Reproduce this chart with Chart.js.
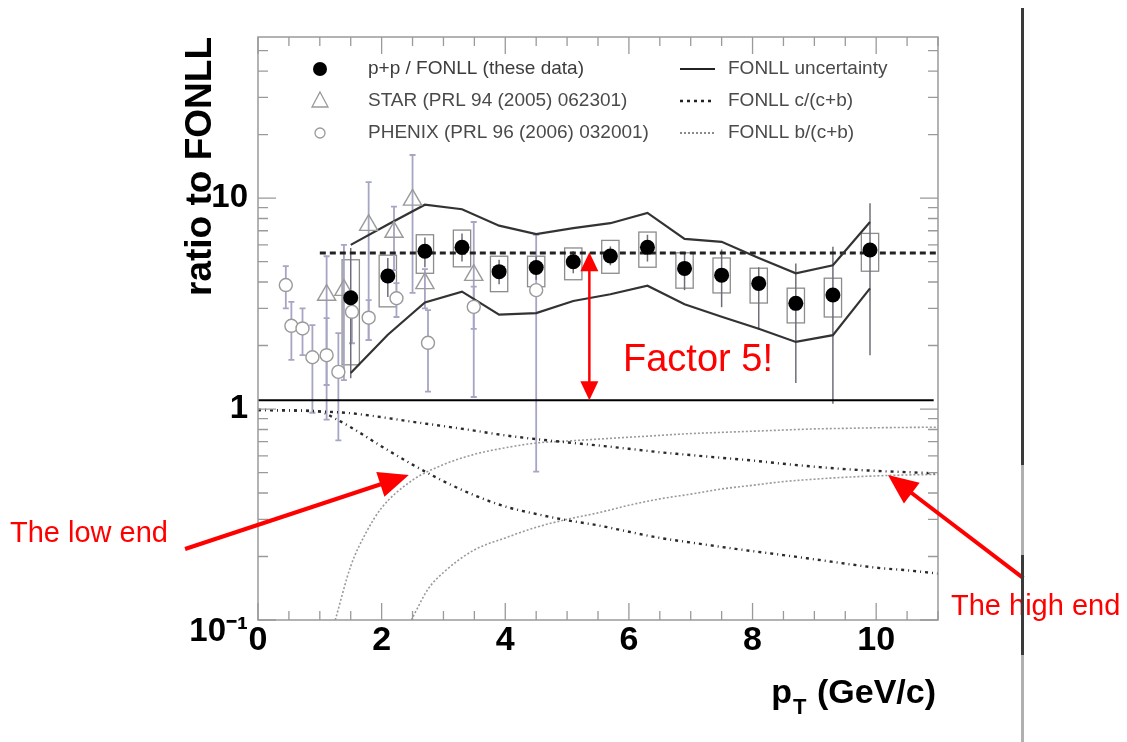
<!DOCTYPE html>
<html><head><meta charset="utf-8">
<script src="https://cdn.jsdelivr.net/npm/chart.js@4.4.0/dist/chart.umd.min.js"></script>
<style>
html,body{margin:0;padding:0;background:#fff;}
#wrap{position:relative;width:1127px;height:742px;overflow:hidden;}
canvas{display:block;}
.vl{position:absolute;left:1021px;width:3px;}
</style></head><body>
<div id="wrap">
<canvas id="c" width="1127" height="742"></canvas>
<div class="vl" style="top:8px;height:457px;background:#3a3a3a"></div>
<div class="vl" style="top:465px;height:90px;background:#b0b0b0"></div>
<div class="vl" style="top:555px;height:100px;background:#3a3a3a"></div>
<div class="vl" style="top:655px;height:87px;background:#b0b0b0"></div>
</div>
<script>
// ---------------- data ----------------
const xTickValues = [0, 2, 4, 6, 8, 10];
const yTickValues = [0.1, 1, 10];
const yTickLabels = [['', '10\u207B\u00B9'], '1', '10'];

// p+p / FONLL (these data)
const ppX      = [1.5, 2.1, 2.7, 3.3, 3.9, 4.5, 5.1, 5.7, 6.3, 6.9, 7.5, 8.1, 8.7, 9.3, 9.9];
const ppY      = [3.37, 4.27, 5.60, 5.84, 4.48, 4.69, 4.99, 5.31, 5.84, 4.64, 4.31, 3.94, 3.17, 3.47, 5.67];
const ppStatLo = [1.40, 3.40, 4.70, 5.00, 3.90, 4.10, 4.40, 4.80, 5.00, 3.66, 3.04, 2.37, 1.33, 1.06, 1.80];
const ppStatHi = [5.80, 5.20, 6.50, 6.80, 5.10, 5.30, 5.60, 5.90, 6.70, 5.50, 5.70, 4.70, 4.90, 5.87, 9.45];
const ppSysLo  = [1.62, 3.05, 4.40, 4.72, 3.60, 3.80, 4.10, 4.40, 4.70, 3.74, 3.55, 3.18, 2.56, 2.73, 4.50];
const ppSysHi  = [5.10, 5.36, 6.70, 7.05, 5.30, 5.30, 5.80, 6.30, 6.90, 5.50, 5.20, 4.65, 3.74, 4.17, 6.80];

// STAR (PRL 94 (2005) 062301)
const starX  = [1.11, 1.39, 1.79, 2.20, 2.50, 2.70, 3.49];
const starY  = [3.47, 3.66, 7.44, 6.90, 9.80, 3.94, 4.31];
const starLo = [1.30, 1.37, 2.12, 4.55, 3.55, 3.00, 1.14];
const starHi = [5.30, 6.00, 11.9, 9.10, 16.0, 4.60, 7.70];

// PHENIX (PRL 96 (2006) 032001)
const phenixX  = [0.45, 0.54, 0.72, 0.88, 1.11, 1.30, 1.52, 1.79, 2.24, 2.75, 3.49, 4.50];
const phenixY  = [3.87, 2.48, 2.41, 1.76, 1.80, 1.50, 2.89, 2.71, 3.35, 2.06, 3.05, 3.66];
const phenixLo = [3.00, 1.71, 1.80, 0.96, 0.89, 0.71, 2.05, 2.12, 2.73, 1.21, 2.40, 0.505];
const phenixHi = [4.76, 3.22, 3.00, 2.50, 2.70, 2.29, 3.36, 3.28, 3.95, 2.94, 3.80, 6.70];

// FONLL uncertainty band
const bandX  = [1.5, 2.1, 2.7, 3.3, 3.9, 4.5, 5.1, 5.7, 6.3, 6.9, 7.5, 8.1, 8.7, 9.3, 9.9];
const bandHi = [6.0, 7.5, 9.3, 8.85, 7.4, 6.75, 7.2, 7.6, 8.5, 6.4, 6.2, 5.2, 4.4, 4.8, 7.7];
const bandLo = [1.48, 2.25, 3.2, 3.6, 2.8, 2.85, 3.25, 3.5, 3.84, 3.14, 2.74, 2.4, 2.08, 2.24, 3.73];

// constant level (dashed) and the drawn reference line
const fitX = [1.0, 11.0];
const fitY = [5.49, 5.49];
const unityX = [0, 10.93];
const unityY = [1.10, 1.10];

// FONLL c/(c+b)  (two curves)
const cHiX = [0, 0.5, 1.0, 1.5, 2.0, 2.5, 3.0, 3.5, 4.0, 4.5, 5.0, 5.5, 6.0, 6.5, 7.0, 7.5, 8.0, 8.5, 9.0, 9.5, 10.0, 10.5, 11.0];
const cHiY = [0.99, 0.985, 0.975, 0.955, 0.915, 0.87, 0.83, 0.79, 0.75, 0.72, 0.695, 0.672, 0.648, 0.624, 0.605, 0.587, 0.570, 0.550, 0.533, 0.519, 0.509, 0.502, 0.495];
const cLoX = [0, 0.5, 1.0, 1.25, 1.5, 2.0, 2.5, 3.0, 3.5, 4.0, 4.5, 5.0, 5.5, 6.0, 6.5, 7.0, 7.5, 8.0, 8.5, 9.0, 9.5, 10.0, 10.5, 11.0];
const cLoY = [0.99, 0.985, 0.972, 0.90, 0.82, 0.665, 0.545, 0.455, 0.39, 0.345, 0.318, 0.297, 0.281, 0.262, 0.245, 0.233, 0.222, 0.212, 0.203, 0.194, 0.185, 0.177, 0.172, 0.166];
// FONLL b/(c+b)  (two curves)
const bHiX = [1.25, 1.5, 1.75, 2.0, 2.5, 3.0, 3.5, 4.0, 4.5, 5.0, 5.5, 6.0, 6.5, 7.0, 7.5, 8.0, 8.5, 9.0, 9.5, 10.0, 10.5, 11.0];
const bHiY = [0.10, 0.18, 0.26, 0.34, 0.46, 0.545, 0.61, 0.655, 0.69, 0.705, 0.72, 0.735, 0.75, 0.765, 0.775, 0.785, 0.795, 0.805, 0.81, 0.815, 0.818, 0.82];
const bLoX = [2.48, 2.75, 3.0, 3.5, 4.0, 4.5, 5.0, 5.5, 6.0, 6.5, 7.0, 7.5, 8.0, 8.5, 9.0, 9.5, 10.0, 10.5, 11.0];
const bLoY = [0.10, 0.14, 0.168, 0.215, 0.245, 0.275, 0.30, 0.322, 0.35, 0.375, 0.395, 0.418, 0.435, 0.453, 0.465, 0.475, 0.482, 0.487, 0.49];

// annotation arrows (data coordinates)
const factorArrow = {x: 5.36, y1: 1.10, y2: 5.54};
const lowArrow  = {x1: -1.18, y1: 0.217, x2: 2.44, y2: 0.487};
const highArrow = {x1: 12.38, y1: 0.158, x2: 10.19, y2: 0.487};

// ---------------- chart ----------------
const FONT = '"Liberation Sans", Arial, Helvetica, sans-serif';
Chart.defaults.font.family = FONT;
const pts = (xs, ys) => xs.map((x, i) => ({x, y: ys[i]}));
const boxHalf = 0.14;

const errorPlugin = {
  id: 'errorbars',
  beforeDatasetsDraw(chart) {
    const {ctx, chartArea: a} = chart;
    const xs = chart.scales.x, ys = chart.scales.y;
    ctx.save();
    ctx.beginPath(); ctx.rect(a.left, a.top, a.right - a.left, a.bottom - a.top); ctx.clip();
    ctx.strokeStyle = '#8c8c8c'; ctx.lineWidth = 1.3;
    ppX.forEach((x, i) => {
      const l = xs.getPixelForValue(x - boxHalf), r = xs.getPixelForValue(x + boxHalf);
      const t = ys.getPixelForValue(ppSysHi[i]), b = ys.getPixelForValue(ppSysLo[i]);
      ctx.strokeRect(l, t, r - l, b - t);
    });
    const bars = (X, lo, hi, color, w, cap) => {
      ctx.strokeStyle = color; ctx.lineWidth = w;
      X.forEach((x, i) => {
        const px = xs.getPixelForValue(x);
        const t = ys.getPixelForValue(hi[i]), b = ys.getPixelForValue(lo[i]);
        ctx.beginPath(); ctx.moveTo(px, t); ctx.lineTo(px, b);
        if (cap) { ctx.moveTo(px - cap, t); ctx.lineTo(px + cap, t); ctx.moveTo(px - cap, b); ctx.lineTo(px + cap, b); }
        ctx.stroke();
      });
    };
    bars(phenixX, phenixLo, phenixHi, '#a6a6c4', 1.8, 3);
    bars(starX, starLo, starHi, '#a6a6c4', 1.8, 3);
    bars(ppX, ppStatLo, ppStatHi, '#6e6e7a', 1.5, 0);
    ctx.restore();
  }
};

function arrowHead(ctx, x1, y1, x2, y2, len, half) {
  const ang = Math.atan2(y2 - y1, x2 - x1);
  ctx.beginPath();
  ctx.moveTo(x2, y2);
  ctx.lineTo(x2 - len * Math.cos(ang) + half * Math.sin(ang), y2 - len * Math.sin(ang) - half * Math.cos(ang));
  ctx.lineTo(x2 - len * Math.cos(ang) - half * Math.sin(ang), y2 - len * Math.sin(ang) + half * Math.cos(ang));
  ctx.closePath(); ctx.fill();
}
function arrow(ctx, x1, y1, x2, y2, w, len, half) {
  const ang = Math.atan2(y2 - y1, x2 - x1);
  ctx.lineWidth = w;
  ctx.beginPath(); ctx.moveTo(x1, y1); ctx.lineTo(x2 - len * 0.8 * Math.cos(ang), y2 - len * 0.8 * Math.sin(ang)); ctx.stroke();
  arrowHead(ctx, x1, y1, x2, y2, len, half);
}

const decorPlugin = {
  id: 'decor',
  afterDraw(chart) {
    const {ctx, chartArea: a} = chart;
    const xs = chart.scales.x, ys = chart.scales.y;
    ctx.save();
    // frame
    ctx.strokeStyle = '#9a9a9a'; ctx.lineWidth = 1.5;
    ctx.strokeRect(a.left, a.top, a.right - a.left, a.bottom - a.top);
    // inner tick marks on all four sides
    ctx.lineWidth = 1.3;
    ctx.beginPath();
    for (let v = 0; v <= 11.001; v += 0.5) {
      const px = xs.getPixelForValue(v);
      const len = (Math.abs(v % 2) < 1e-6) ? 17 : 9;
      ctx.moveTo(px, a.bottom); ctx.lineTo(px, a.bottom - len);
      ctx.moveTo(px, a.top); ctx.lineTo(px, a.top + len);
    }
    [0.1, 1, 10].forEach(dec => {
      for (let k = 1; k <= 9; k++) {
        const v = k * dec;
        if (v > ys.max) break;
        const py = ys.getPixelForValue(v);
        const len = k === 1 ? 18 : 10;
        ctx.moveTo(a.left, py); ctx.lineTo(a.left + len, py);
        ctx.moveTo(a.right, py); ctx.lineTo(a.right - len, py);
      }
    });
    ctx.stroke();

    // legend
    const r1 = a.top + 32, r2 = a.top + 64, r3 = a.top + 96;
    const mx = a.left + 62, tx = a.left + 110, lx1 = a.left + 422, lx2 = a.left + 457, tx2 = a.left + 470;
    ctx.fillStyle = '#000';
    ctx.beginPath(); ctx.arc(mx, r1, 7, 0, 2 * Math.PI); ctx.fill();
    ctx.strokeStyle = '#9a9a9a'; ctx.lineWidth = 1.3;
    ctx.beginPath(); ctx.moveTo(mx, r2 - 9); ctx.lineTo(mx + 8, r2 + 6); ctx.lineTo(mx - 8, r2 + 6); ctx.closePath(); ctx.stroke();
    ctx.beginPath(); ctx.arc(mx, r3, 5, 0, 2 * Math.PI); ctx.stroke();
    ctx.font = '19px ' + FONT; ctx.textBaseline = 'middle'; ctx.textAlign = 'left';
    ctx.fillStyle = '#3c3c3c'; ctx.fillText('p+p / FONLL (these data)', tx, r1);
    ctx.fillStyle = '#4a4a4a';
    ctx.fillText('STAR (PRL 94 (2005) 062301)', tx, r2);
    ctx.fillText('PHENIX (PRL 96 (2006) 032001)', tx, r3);
    ctx.fillText('FONLL uncertainty', tx2, r1);
    ctx.fillText('FONLL c/(c+b)', tx2, r2);
    ctx.fillText('FONLL b/(c+b)', tx2, r3);
    ctx.strokeStyle = '#222'; ctx.lineWidth = 2.2;
    ctx.beginPath(); ctx.moveTo(lx1, r1); ctx.lineTo(lx2, r1); ctx.stroke();
    ctx.setLineDash([3, 4]); ctx.lineWidth = 2.5;
    ctx.beginPath(); ctx.moveTo(lx1, r2); ctx.lineTo(lx2, r2); ctx.stroke();
    ctx.setLineDash([2, 2]); ctx.strokeStyle = '#8a8a8a'; ctx.lineWidth = 2;
    ctx.beginPath(); ctx.moveTo(lx1, r3); ctx.lineTo(lx2, r3); ctx.stroke();
    ctx.setLineDash([]);

    // x axis title with subscript
    ctx.fillStyle = '#000'; ctx.textBaseline = 'alphabetic'; ctx.textAlign = 'left';
    ctx.font = 'bold 34px ' + FONT;
    const rest = ' (GeV/c)';
    const wRest = ctx.measureText(rest).width;
    const wp = ctx.measureText('p').width;
    ctx.font = 'bold 22px ' + FONT;
    const wT = ctx.measureText('T').width;
    const endX = a.right - 2, base = a.bottom + 83;
    let x0 = endX - wRest - wT - wp - 2;
    ctx.font = 'bold 34px ' + FONT; ctx.fillText('p', x0, base);
    ctx.font = 'bold 22px ' + FONT; ctx.fillText('T', x0 + wp + 1, base + 11);
    ctx.font = 'bold 34px ' + FONT; ctx.fillText(rest, x0 + wp + wT + 2, base);

    // red annotations
    ctx.fillStyle = '#ff0000'; ctx.strokeStyle = '#ff0000';
    const fx = xs.getPixelForValue(factorArrow.x);
    const fy1 = ys.getPixelForValue(factorArrow.y1), fy2 = ys.getPixelForValue(factorArrow.y2);
    ctx.lineWidth = 2.5;
    ctx.beginPath(); ctx.moveTo(fx, fy1 - 14); ctx.lineTo(fx, fy2 + 14); ctx.stroke();
    arrowHead(ctx, fx, fy1, fx, fy2, 19, 9);
    arrowHead(ctx, fx, fy2, fx, fy1, 19, 9);
    arrow(ctx, xs.getPixelForValue(lowArrow.x1), ys.getPixelForValue(lowArrow.y1),
          xs.getPixelForValue(lowArrow.x2), ys.getPixelForValue(lowArrow.y2), 4, 30, 13);
    arrow(ctx, xs.getPixelForValue(highArrow.x1), ys.getPixelForValue(highArrow.y1),
          xs.getPixelForValue(highArrow.x2), ys.getPixelForValue(highArrow.y2), 4, 30, 13);
    ctx.textAlign = 'left'; ctx.textBaseline = 'alphabetic';
    ctx.font = '38px ' + FONT; ctx.fillText('Factor 5!', 623, 371);
    ctx.font = '29px ' + FONT;
    ctx.fillText('The low end', 10, 542);
    ctx.fillText('The high end', 951, 615);
    ctx.restore();
  }
};

new Chart(document.getElementById('c'), {
  type: 'line',
  data: {
    datasets: [
      {label: 'p+p / FONLL (these data)', data: pts(ppX, ppY), showLine: false,
       pointRadius: 7.5, pointBackgroundColor: '#000', pointBorderColor: '#000', pointBorderWidth: 0},
      {label: 'PHENIX (PRL 96 (2006) 032001)', data: pts(phenixX, phenixY), showLine: false, pointStyle: 'circle',
       pointRadius: 6.5, pointBackgroundColor: '#fff', pointBorderColor: '#9a9a9a', pointBorderWidth: 1.4},
      {label: 'STAR (PRL 94 (2005) 062301)', data: pts(starX, starY), showLine: false, pointStyle: 'triangle',
       pointRadius: 10.5, pointBackgroundColor: 'rgba(255,255,255,0)', pointBorderColor: '#9a9a9a', pointBorderWidth: 1.4},
      {label: 'FONLL uncertainty', data: pts(bandX, bandHi), borderColor: '#333', borderWidth: 2.2, pointRadius: 0, tension: 0},
      {label: 'FONLL uncertainty (low)', data: pts(bandX, bandLo), borderColor: '#333', borderWidth: 2.2, pointRadius: 0, tension: 0},
      {label: 'level', data: pts(fitX, fitY), borderColor: '#222', borderWidth: 3.2, borderDash: [6, 4], pointRadius: 0},
      {label: 'ref', data: pts(unityX, unityY), borderColor: '#000', borderWidth: 2, pointRadius: 0},
      {label: 'FONLL c/(c+b)', data: pts(cHiX, cHiY), borderColor: '#2a2a2a', borderWidth: 2.4, borderDash: [3, 4, 1, 4],
       pointRadius: 0, cubicInterpolationMode: 'monotone'},
      {label: 'FONLL c/(c+b) low', data: pts(cLoX, cLoY), borderColor: '#2a2a2a', borderWidth: 2.4, borderDash: [3, 4, 1, 4],
       pointRadius: 0, cubicInterpolationMode: 'monotone'},
      {label: 'FONLL b/(c+b)', data: pts(bHiX, bHiY), borderColor: '#9a9a9a', borderWidth: 1.6, borderDash: [2, 2],
       pointRadius: 0, cubicInterpolationMode: 'monotone'},
      {label: 'FONLL b/(c+b) low', data: pts(bLoX, bLoY), borderColor: '#9a9a9a', borderWidth: 1.6, borderDash: [2, 2],
       pointRadius: 0, cubicInterpolationMode: 'monotone'}
    ]
  },
  options: {
    responsive: false,
    animation: false,
    devicePixelRatio: 1,
    layout: {padding: {top: 37, right: 189, left: 0, bottom: 0}},
    plugins: {legend: {display: false}, tooltip: {enabled: false}},
    scales: {
      x: {
        type: 'linear', min: 0, max: 11,
        grid: {display: false, drawTicks: false},
        border: {display: false},
        afterBuildTicks: s => { s.ticks = xTickValues.map(v => ({value: v})); },
        afterFit: s => { s.height = 122; },
        ticks: {autoSkip: false, maxRotation: 0, padding: 0, color: '#000',
                font: {size: 34, weight: 'bold'}}
      },
      y: {
        type: 'logarithmic', min: 0.1, max: 58,
        grid: {display: false, drawTicks: false},
        border: {display: false},
        afterBuildTicks: s => { s.ticks = yTickValues.map(v => ({value: v})); },
        afterFit: s => { s.width = 258; },
        ticks: {autoSkip: false, padding: 10, color: '#000', font: {size: 33, weight: 'bold', lineHeight: 0.75},
                callback: (v) => { const i = yTickValues.indexOf(v); return i >= 0 ? yTickLabels[i] : ''; }},
        title: {display: true, text: 'ratio to FONLL', align: 'end', color: '#000',
                font: {size: 37, weight: 'bold'}, padding: {top: 179, bottom: 0}}
      }
    }
  },
  plugins: [errorPlugin, decorPlugin]
});
</script>
</body></html>
